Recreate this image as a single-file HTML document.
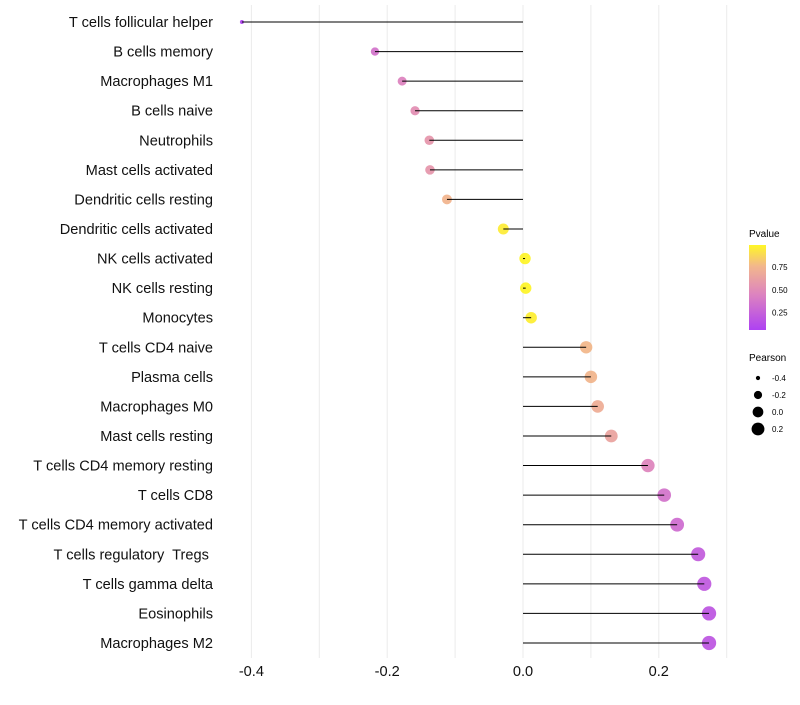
<!DOCTYPE html>
<html><head><meta charset="utf-8"><style>
body{margin:0;background:#fff;font-family:"Liberation Sans",sans-serif}
text{white-space:pre}
</style></head><body>
<svg id="c" width="800" height="700" xmlns="http://www.w3.org/2000/svg"></svg>
<script>
const categories=["T cells follicular helper","B cells memory","Macrophages M1","B cells naive","Neutrophils","Mast cells activated","Dendritic cells resting","Dendritic cells activated","NK cells activated","NK cells resting","Monocytes","T cells CD4 naive","Plasma cells","Macrophages M0","Mast cells resting","T cells CD4 memory resting","T cells CD8","T cells CD4 memory activated","T cells regulatory  Tregs ","T cells gamma delta","Eosinophils","Macrophages M2"];
const pearson=[-0.414,-0.218,-0.178,-0.159,-0.138,-0.137,-0.112,-0.029,0.003,0.004,0.012,0.093,0.1,0.11,0.13,0.184,0.208,0.227,0.258,0.267,0.274,0.274];
const pvalue=[0.08,0.36,0.45,0.52,0.57,0.57,0.74,0.95,0.98,0.98,0.96,0.76,0.75,0.7,0.64,0.46,0.36,0.32,0.23,0.21,0.19,0.19];
const xTicks=[-0.4,-0.2,0.0,0.2];
const xTickLabels=["-0.4","-0.2","0.0","0.2"];
const pTicks=[0.25,0.5,0.75];
const sizeTicks=[-0.4,-0.2,0.0,0.2];
const NS="http://www.w3.org/2000/svg",svg=document.getElementById('c');
function mk(t,a,p){const e=document.createElementNS(NS,t);for(const k in a)e.setAttribute(k,a[k]);(p||svg).appendChild(e);return e;}
const X=v=>523+v*679;
const Y=i=>22+i*29.57;
const R=v=>Math.sqrt(4+(v+0.414)*68);
const pmin=0.06,pmax=0.99;
const stops=[[0,[160,32,240]],[0.42,[215,110,180]],[0.75,[240,170,120]],[1,[255,245,0]]];
function col(p){const t=Math.max(0,Math.min(1,(p-pmin)/(pmax-pmin)));let k=0;while(k<stops.length-2&&t>stops[k+1][0])k++;const[a0,a]=stops[k],[b0,b]=stops[k+1];const f=(t-a0)/(b0-a0);return `rgb(${a.map((c,i)=>Math.round(c+(b[i]-c)*f)).join(',')})`;}
for(let g=-0.4;g<=0.31;g+=0.1){const l=mk('line',{x1:X(g),x2:X(g),y1:5,y2:658,stroke:'#ebebeb','stroke-width':1});}
xTicks.forEach((v,i)=>{const t=mk('text',{x:X(v),y:676,'text-anchor':'middle','font-size':14.6,fill:'#111'});t.textContent=xTickLabels[i];});
categories.forEach((c,i)=>{
const t=mk('text',{x:213,y:Y(i)+5,'text-anchor':'end','font-size':14.6,fill:'#111'});t.textContent=c;

const d=mk('circle',{cx:X(pearson[i]),cy:Y(i),r:R(pearson[i]),fill:col(pvalue[i]),'fill-opacity':0.8});

const l=mk('line',{x1:X(0),x2:X(pearson[i]),y1:Y(i),y2:Y(i),stroke:'#000','stroke-width':1});

});
const lt=mk('text',{x:749,y:237,'font-size':10});lt.textContent='Pvalue';
const defs=mk('defs',{});const gr=mk('linearGradient',{id:'pg',x1:0,y1:1,x2:0,y2:0},defs);
stops.forEach(s=>mk('stop',{offset:s[0],'stop-color':`rgb(${s[1].join(',')})`},gr));
const bar=mk('rect',{x:749,y:245,width:17,height:85,fill:'url(#pg)','fill-opacity':0.85});
pTicks.forEach(p=>{const y=330-(p-pmin)/(pmax-pmin)*85;const t=mk('text',{x:772,y:y+3,'font-size':8});t.textContent=p.toFixed(2);});
const st=mk('text',{x:749,y:361,'font-size':10});st.textContent='Pearson';
sizeTicks.forEach((v,i)=>{const y=378+i*17;const c=mk('circle',{cx:758,cy:y,r:R(v)*0.95,fill:'#000'});
const t=mk('text',{x:772,y:y+3,'font-size':8});t.textContent=v.toFixed(1);});
</script></body></html>
